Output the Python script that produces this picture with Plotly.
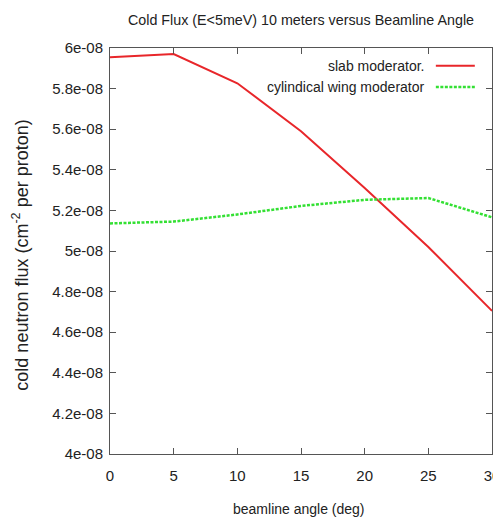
import plotly.graph_objects as go

angles = [0, 5, 10, 15, 20, 25, 30]
slab = [5.954e-08, 5.97e-08, 5.826e-08, 5.59e-08, 5.31e-08, 5.02e-08, 4.705e-08]
cyl = [5.136e-08, 5.145e-08, 5.18e-08, 5.222e-08, 5.252e-08, 5.261e-08, 5.166e-08]
names = ["slab moderator.", "cylindical wing moderator"]
ytickvals = [4.0e-08, 4.2e-08, 4.4e-08, 4.6e-08, 4.8e-08, 5.0e-08, 5.2e-08, 5.4e-08, 5.6e-08, 5.8e-08, 6.0e-08]
yticktext = ["4e-08", "4.2e-08", "4.4e-08", "4.6e-08", "4.8e-08", "5e-08", "5.2e-08", "5.4e-08", "5.6e-08", "5.8e-08", "6e-08"]
xtickvals = [0, 5, 10, 15, 20, 25, 30]

FONT = "Liberation Sans, Arial, sans-serif"
TXT = "#222222"
RED = "#e8262a"
GREEN = "#33e033"

fig = go.Figure()
fig.add_trace(go.Scatter(x=angles, y=slab, mode="lines", name=names[0],
                         line=dict(color=RED, width=2), showlegend=False))
fig.add_trace(go.Scatter(x=angles, y=cyl, mode="lines", name=names[1],
                         line=dict(color=GREEN, width=2.5, dash="3px,1.5px"), showlegend=False))

axcommon = dict(showgrid=False, zeroline=False, showline=True, linecolor="#555555",
                linewidth=1, mirror="allticks", ticks="inside", ticklen=6, tickcolor="#555555",
                automargin=False, ticklabeloverflow="allow")
fig.update_xaxes(range=[0, 30], tickvals=xtickvals, **axcommon, ticklabelstandoff=8,
                 tickfont=dict(family=FONT, size=15, color=TXT))
fig.update_yaxes(range=[4.0e-08, 6.0e-08], tickvals=ytickvals, ticktext=yticktext, **axcommon,
                 ticklabelstandoff=3, tickfont=dict(family=FONT, size=15, color=TXT))

# axis titles
fig.add_annotation(xref="paper", yref="paper", x=-0.233, y=0.491, text="cold neutron flux (cm<sup>-2</sup> per proton)",
                   textangle=-90, showarrow=False, xanchor="center", yanchor="middle",
                   font=dict(family=FONT, size=18, color=TXT))
fig.add_annotation(xref="paper", yref="paper", x=0.495, y=-0.135, text="beamline angle (deg)",
                   showarrow=False, xanchor="center", yanchor="middle",
                   font=dict(family=FONT, size=14, color=TXT))

# legend (text right-aligned, sample line on the right)
leg_y = [0.956, 0.904]
for i, (nm, col, dash, w) in enumerate([(names[0], RED, "solid", 2), (names[1], GREEN, "3px,1.5px", 2.5)]):
    fig.add_annotation(xref="paper", yref="paper", x=0.830, y=leg_y[i], text=nm, showarrow=False,
                       xanchor="right", yanchor="middle", font=dict(family=FONT, size=14, color=TXT))
    fig.add_shape(type="line", xref="paper", yref="paper", x0=0.853, x1=0.955, y0=leg_y[i], y1=leg_y[i],
                  line=dict(color=col, width=w, dash=dash))

# the page adds an 8px body margin, so the figure is sized to fit inside the window
fig.update_layout(
    width=493, height=513,
    margin=dict(l=102, r=9, t=40, b=67),
    paper_bgcolor="white", plot_bgcolor="white",
    title=dict(text="Cold Flux (E&lt;5meV) 10 meters versus Beamline Angle", x=0.5, xref="paper",
               y=1 - 12 / 513, yanchor="middle", font=dict(family=FONT, size=14.3, color=TXT)),
)
fig.write_html("out.html")
